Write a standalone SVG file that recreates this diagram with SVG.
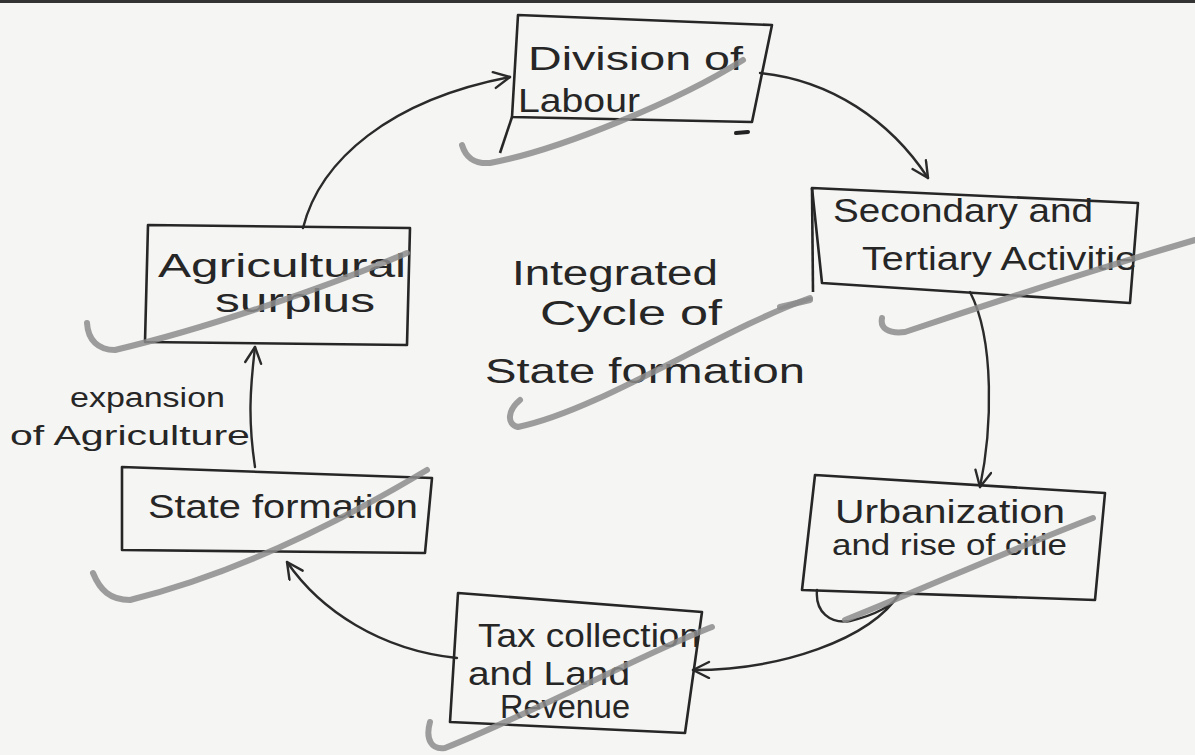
<svg xmlns="http://www.w3.org/2000/svg" width="1195" height="755" viewBox="0 0 1195 755">
<style>
.box{fill:none;stroke:#262626;stroke-width:2.6;stroke-linejoin:round}
.t{font-family:"Liberation Sans","DejaVu Sans",sans-serif;fill:#262626;font-size:33px}
.c{fill:none;stroke:#2a2a2a;stroke-width:2.4;stroke-linecap:round}
.g{fill:none;stroke:#8c8c8c;stroke-width:6;stroke-linecap:round;stroke-linejoin:round;opacity:0.85}
</style>
<defs>
<marker id="ah" markerWidth="22" markerHeight="22" refX="18" refY="9" orient="auto" markerUnits="userSpaceOnUse">
<path d="M2,1 L18,9 L2,17" fill="none" stroke="#2a2a2a" stroke-width="2.4" stroke-linecap="round" stroke-linejoin="round"/>
</marker>
</defs>
<rect x="0" y="0" width="1195" height="755" fill="#f5f5f3"/>
<line x1="0" y1="1.5" x2="1195" y2="1.5" stroke="#333" stroke-width="3"/>

<g id="connectors">
<path class="c" d="M303,228 C320,160 390,100 510,77" marker-end="url(#ah)"/>
<path class="c" d="M760,73 C830,80 890,120 928,178" marker-end="url(#ah)"/>
<path class="c" d="M970,292 C995,340 992,430 980,487" marker-end="url(#ah)"/>
<path class="c" d="M817,590 C815,612 830,624 850,621 C875,615 895,605 900,593 C870,640 780,670 693,670" marker-end="url(#ah)"/>
<path class="c" d="M457,658 C380,650 320,610 287,562" marker-end="url(#ah)"/>
<path class="c" d="M255,467 C248,420 250,390 255,347" marker-end="url(#ah)"/>
</g>

<g id="node-division">
<polygon class="box" points="518,15 772,25 752,122 512,117"/>
<line class="box" x1="512" y1="117" x2="500" y2="153"/>
<line x1="736" y1="133" x2="748" y2="132" stroke="#222" stroke-width="4" stroke-linecap="round"/>
<text class="t" x="528" y="70" textLength="215" lengthAdjust="spacingAndGlyphs">Division of</text>
<text class="t" x="518" y="112" textLength="122" lengthAdjust="spacingAndGlyphs">Labour</text>
</g>

<g id="node-secondary">
<polygon class="box" points="812,188 1138,203 1130,303 822,283"/>
<line class="box" x1="812" y1="188" x2="813" y2="292"/>
<text class="t" x="833" y="222" textLength="260" lengthAdjust="spacingAndGlyphs">Secondary and</text>
<text class="t" x="862" y="270" textLength="275" lengthAdjust="spacingAndGlyphs">Tertiary Activitie</text>
</g>

<g id="node-urbanization">
<polygon class="box" points="815,475 1105,493 1095,600 802,590"/>
<text class="t" x="835" y="523" textLength="230" lengthAdjust="spacingAndGlyphs">Urbanization</text>
<text class="t" x="832" y="555" textLength="235" lengthAdjust="spacingAndGlyphs" style="font-size:29px">and rise of citie</text>
</g>

<g id="node-tax">
<polygon class="box" points="458,593 702,612 685,733 450,722"/>
<text class="t" x="478" y="647" textLength="222" lengthAdjust="spacingAndGlyphs">Tax collection</text>
<text class="t" x="468" y="685" textLength="162" lengthAdjust="spacingAndGlyphs">and Land</text>
<text class="t" x="500" y="718" textLength="130" lengthAdjust="spacingAndGlyphs">Revenue</text>
</g>

<g id="node-state">
<polygon class="box" points="122,467 432,478 425,553 122,550"/>
<text class="t" x="148" y="518" textLength="270" lengthAdjust="spacingAndGlyphs">State formation</text>
</g>

<g id="node-agricultural">
<polygon class="box" points="148,225 410,228 407,345 145,342"/>
<text class="t" x="158" y="277" textLength="248" lengthAdjust="spacingAndGlyphs">Agricultural</text>
<text class="t" x="215" y="312" textLength="160" lengthAdjust="spacingAndGlyphs">surplus</text>
</g>

<g id="label-center">
<text class="t" x="512" y="285" textLength="206" lengthAdjust="spacingAndGlyphs" style="font-size:35px">Integrated</text>
<text class="t" x="540" y="325" textLength="182" lengthAdjust="spacingAndGlyphs" style="font-size:35px">Cycle of</text>
<text class="t" x="485" y="383" textLength="320" lengthAdjust="spacingAndGlyphs" style="font-size:35px">State formation</text>
</g>

<g id="label-expansion">
<text class="t" x="70" y="407" textLength="155" lengthAdjust="spacingAndGlyphs" style="font-size:27px">expansion</text>
<text class="t" x="10" y="445" textLength="240" lengthAdjust="spacingAndGlyphs" style="font-size:27px">of Agriculture</text>
</g>

<g id="pencil-marks">
<path class="g" d="M462,145 C466,158 474,164 490,163 C560,150 680,100 743,60"/>
<path class="g" d="M520,400 C508,410 506,424 518,427 C600,410 720,330 810,298"/>
<path class="g" d="M780,307 L810,300"/>
<path class="g" d="M882,318 C880,328 888,334 905,332 C1000,300 1100,268 1195,240"/>
<path class="g" d="M87,323 C88,340 98,350 115,350 C200,330 320,290 407,253"/>
<path class="g" d="M93,573 C100,590 110,600 130,600 C250,570 360,510 427,470"/>
<path class="g" d="M845,620 C920,590 1010,550 1093,518"/>
<path class="g" d="M430,722 C425,740 432,750 445,748 C540,710 640,655 712,627"/>
</g>
</svg>
